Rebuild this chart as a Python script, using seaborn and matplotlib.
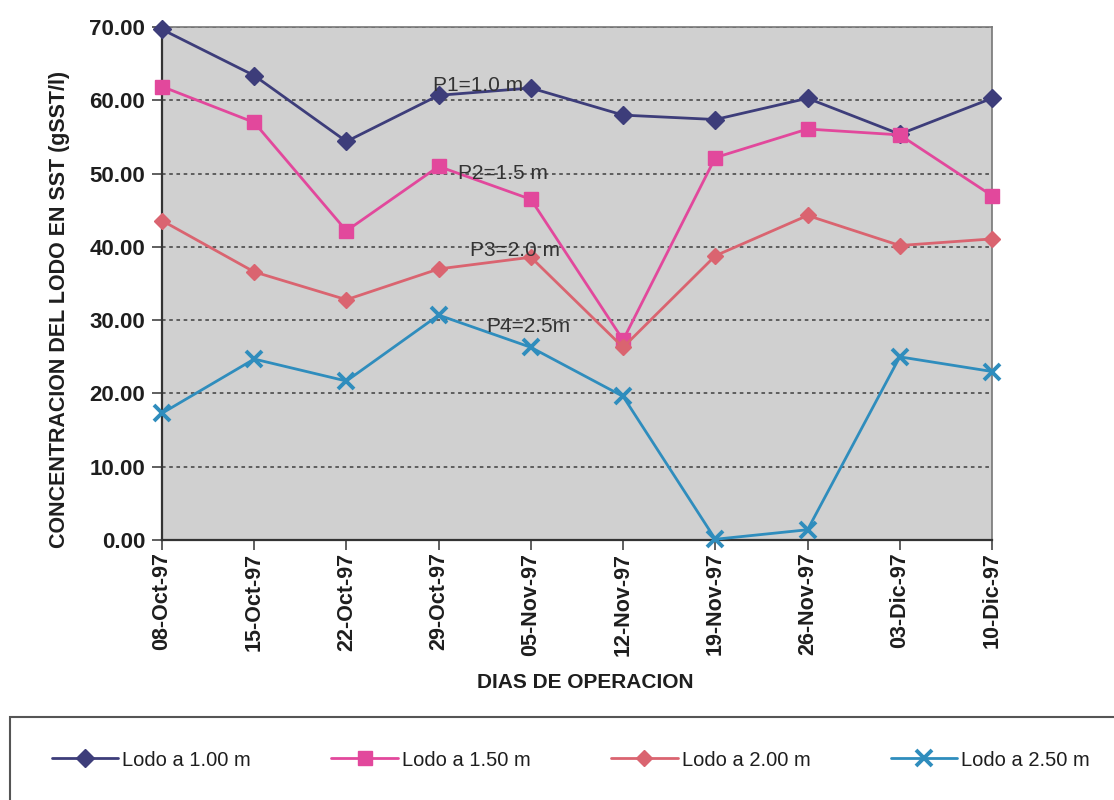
import matplotlib
matplotlib.use("Agg")
import matplotlib.pyplot as plt
from matplotlib.patches import Rectangle
import seaborn as sns
import pandas as pd

# Sampling dates (weekly)
fechas = ["08-Oct-97", "15-Oct-97", "22-Oct-97", "29-Oct-97", "05-Nov-97",
          "12-Nov-97", "19-Nov-97", "26-Nov-97", "03-Dic-97", "10-Dic-97"]

# Sludge SST concentration at each depth
lodo_100 = [69.7, 63.4, 54.4, 60.7, 61.7, 58.0, 57.4, 60.3, 55.4, 60.3]
lodo_150 = [61.9, 57.0, 42.2, 51.0, 46.5, 27.3, 52.2, 56.1, 55.3, 47.0]
lodo_200 = [43.6, 36.6, 32.8, 37.0, 38.6, 26.3, 38.8, 44.3, 40.2, 41.1]
lodo_250 = [17.3, 24.7, 21.7, 30.7, 26.3, 19.6, 0.1, 1.4, 25.0, 23.0]

series = ["Lodo a 1.00 m", "Lodo a 1.50 m", "Lodo a 2.00 m", "Lodo a 2.50 m"]
valores = [lodo_100, lodo_150, lodo_200, lodo_250]
etiquetas = ["P1=1.0 m", "P2=1.5 m", "P3=2.0 m", "P4=2.5m"]

colores = ["#3d3d7a", "#e2489c", "#da6470", "#2f8dbd"]
marcadores = ["D", "s", "D", "x"]
tam_marcador = [9, 10, 8, 11]
borde_marcador = [1.0, 1.0, 1.0, 2.8]

rows = []
for nombre, vals in zip(series, valores):
    for i, v in enumerate(vals):
        rows.append({"dia": i, "valor": v, "serie": nombre})
df = pd.DataFrame(rows)

sns.set_theme(style="white")
plt.rcParams["font.family"] = ["Liberation Sans", "DejaVu Sans"]

fig = plt.figure(figsize=(11.14, 8.0), dpi=100)
ax = fig.add_axes([0.1454, 0.325, 0.7451, 0.641])
ax.set_facecolor("#d0d0d0")

for nombre, c, m, ms, mew in zip(series, colores, marcadores, tam_marcador,
                                 borde_marcador):
    sub = df[df["serie"] == nombre]
    sns.lineplot(data=sub, x="dia", y="valor", ax=ax, color=c, marker=m,
                 markersize=ms, markeredgecolor=c, markeredgewidth=mew,
                 linewidth=2.0, label=nombre, clip_on=False, zorder=3)

ax.set_xlim(0, len(fechas) - 1)
ax.set_ylim(0, 70)
ax.set_yticks(range(0, 71, 10))
ax.set_yticklabels([f"{v:.2f}" for v in range(0, 71, 10)],
                   fontsize=16, fontweight="bold", color="#1e1e1e")
ax.set_xticks(range(len(fechas)))
ax.set_xticklabels(fechas, rotation=90, fontsize=15.5, fontweight="bold",
                   color="#1e1e1e")
ax.tick_params(axis="both", which="both", direction="out", length=7,
               width=1.2, color="#444444", bottom=True, left=True)
ax.tick_params(axis="x", pad=2)
ax.tick_params(axis="y", pad=5)

ax.yaxis.grid(True, linestyle=(0, (2, 2)), linewidth=1.3, color="#555555")
ax.xaxis.grid(False)
ax.set_axisbelow(True)
for side in ["left", "bottom"]:
    ax.spines[side].set_color("#333333")
    ax.spines[side].set_linewidth(1.6)
for side in ["top", "right"]:
    ax.spines[side].set_color("#777777")
    ax.spines[side].set_linewidth(1.2)

ax.set_xlabel("")
ax.set_ylabel("")
fig.text(585 / 1114, 1 - 683 / 800, "DIAS DE OPERACION", fontsize=15,
         fontweight="bold", color="#1e1e1e", ha="center", va="center")
fig.text(60 / 1114, 1 - 548 / 800, "CONCENTRACION DEL LODO EN SST (gSST/l)",
         fontsize=15.5, fontweight="bold", color="#1e1e1e", rotation=90,
         ha="center", va="bottom")

# Depth labels along the curves
posiciones = [(2.94, 62.0), (3.21, 50.0), (3.34, 39.5), (3.52, 29.2)]
for txt, (x, y) in zip(etiquetas, posiciones):
    ax.text(x, y, txt, fontsize=15, color="#333333", ha="left", va="center",
            zorder=4)

ax.get_legend().remove()

# Legend box along the bottom of the figure
fig.patches.append(Rectangle((10 / 1114, -0.05), 1.1, 0.05 + 83 / 800,
                             transform=fig.transFigure, facecolor="white",
                             edgecolor="#555555", linewidth=1.5))
handles, labels = ax.get_legend_handles_labels()
fig.legend(handles[:4], labels[:4], loc="center left",
           bbox_to_anchor=(0.03, 0.05), ncol=4, frameon=False,
           fontsize=14.5, handlelength=3.3, handletextpad=0.2,
           columnspacing=4.0, labelcolor="#1e1e1e")

fig.savefig("out.png", dpi=100)
